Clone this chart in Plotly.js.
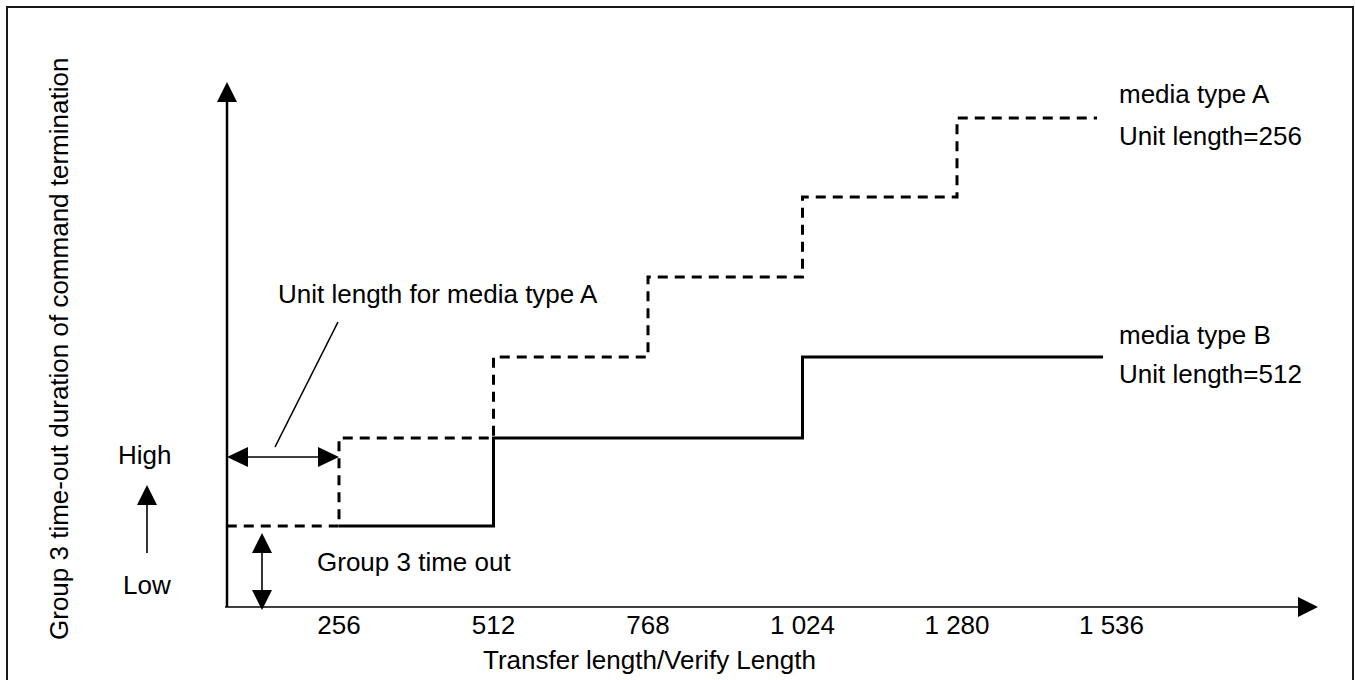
<!DOCTYPE html>
<html><head><meta charset="utf-8">
<script src="https://cdn.plot.ly/plotly-3.0.1.min.js"></script>
<style>html,body{margin:0;padding:0;background:#fff}#chart{width:1355px;height:680px}</style>
</head><body><div id="chart"></div>
<script>
// ---- data ----
const tickValues = [256, 512, 768, 1024, 1280, 1536];
const tickLabels = ["256", "512", "768", "1 024", "1 280", "1 536"];
const mediaA_x = [70, 256, 512, 768, 1024, 1280, 1512];
const mediaA_y = [81, 169, 250, 330, 410, 489, 489];
const mediaB_x = [256, 512, 1024, 1522];
const mediaB_y = [81, 169, 250, 250];

// ---- geometry ----
const L = 227, T = 82, R = 1318, B = 607;
const px = v => (v - L) / (R - L);
const py = v => (B - v) / (B - T);
const FONT = {family: "Liberation Sans, Arial, sans-serif", size: 26, color: "#000"};

function line(x0, y0, x1, y1, w) {
  return {type: "line", xref: "paper", yref: "paper", x0: px(x0), y0: py(y0), x1: px(x1), y1: py(y1),
          line: {color: "#000", width: w}};
}
function tri(pts) {
  const d = pts.map((p, i) => (i ? "L" : "M") + px(p[0]).toFixed(6) + "," + py(p[1]).toFixed(6)).join(" ") + " Z";
  return {type: "path", xref: "paper", yref: "paper", path: d, fillcolor: "#000", line: {color: "#000", width: 0}};
}
function txt(text, x, y, xanchor, extra) {
  return Object.assign({text: text, xref: "paper", yref: "paper", x: px(x), y: py(y), xanchor: xanchor,
          yanchor: "middle", showarrow: false, font: FONT}, extra || {});
}

const shapes = [
  {type: "rect", xref: "paper", yref: "paper", x0: px(7), x1: px(1353), y0: py(7), y1: py(690),
   line: {color: "#1a1a1a", width: 2}, fillcolor: "rgba(0,0,0,0)"},
  line(227, 607, 227, 98, 2.5), tri([[227, 82], [217, 102], [237, 102]]),
  line(225, 607, 1300, 607, 1.6), tri([[1318, 607], [1298, 597], [1298, 617]]),
  line(147, 553, 147, 502, 1.6), tri([[147, 485], [137, 505], [157, 505]]),
  line(245, 457, 321, 457, 1.6), tri([[227, 457], [248, 447], [248, 467]]), tri([[339, 457], [318, 447], [318, 467]]),
  line(262, 550, 262, 593, 1.6), tri([[262, 533], [252, 553], [272, 553]]), tri([[262, 610], [252, 590], [272, 590]]),
  line(275, 447, 338, 322, 1.6)
];

const annotations = [
  txt("Group 3 time-out duration of command termination", 59, 349, "center", {textangle: -90}),
  txt("Transfer length/Verify Length", 649, 660, "center"),
  txt("media type A", 1117, 94, "left"),
  txt("Unit length=256", 1117, 136, "left"),
  txt("media type B", 1117, 335, "left"),
  txt("Unit length=512", 1117, 374, "left"),
  txt("Unit length for media type A", 276, 294, "left"),
  txt("Group 3 time out", 315, 562, "left"),
  txt("High", 144, 455, "center"),
  txt("Low", 147, 585, "center")
];

const traces = [
  {x: mediaA_x, y: mediaA_y, mode: "lines", name: "media type A",
   line: {shape: "hv", dash: "10px,7px", width: 3, color: "#000"}, hoverinfo: "x+y"},
  {x: mediaB_x, y: mediaB_y, mode: "lines", name: "media type B",
   line: {shape: "hv", width: 3, color: "#000"}, hoverinfo: "x+y"}
];

const xmin = 256 - (339 - L) / (154.5 / 256);
const xmax = xmin + (R - L) / (154.5 / 256);

const layout = {
  width: 1355, height: 680,
  margin: {l: L, r: 1355 - R, t: T, b: 680 - B, pad: 0},
  paper_bgcolor: "#fff", plot_bgcolor: "#fff",
  showlegend: false,
  font: FONT,
  xaxis: {range: [xmin, xmax], showgrid: false, zeroline: false, showline: false, ticks: "",
          tickmode: "array", tickvals: tickValues, ticktext: tickLabels, tickfont: FONT, automargin: false, fixedrange: true},
  yaxis: {range: [0, B - T], visible: false, showgrid: false, zeroline: false, fixedrange: true},
  shapes: shapes,
  annotations: annotations
};

Plotly.newPlot("chart", traces, layout, {displayModeBar: false, staticPlot: true});
</script></body></html>
